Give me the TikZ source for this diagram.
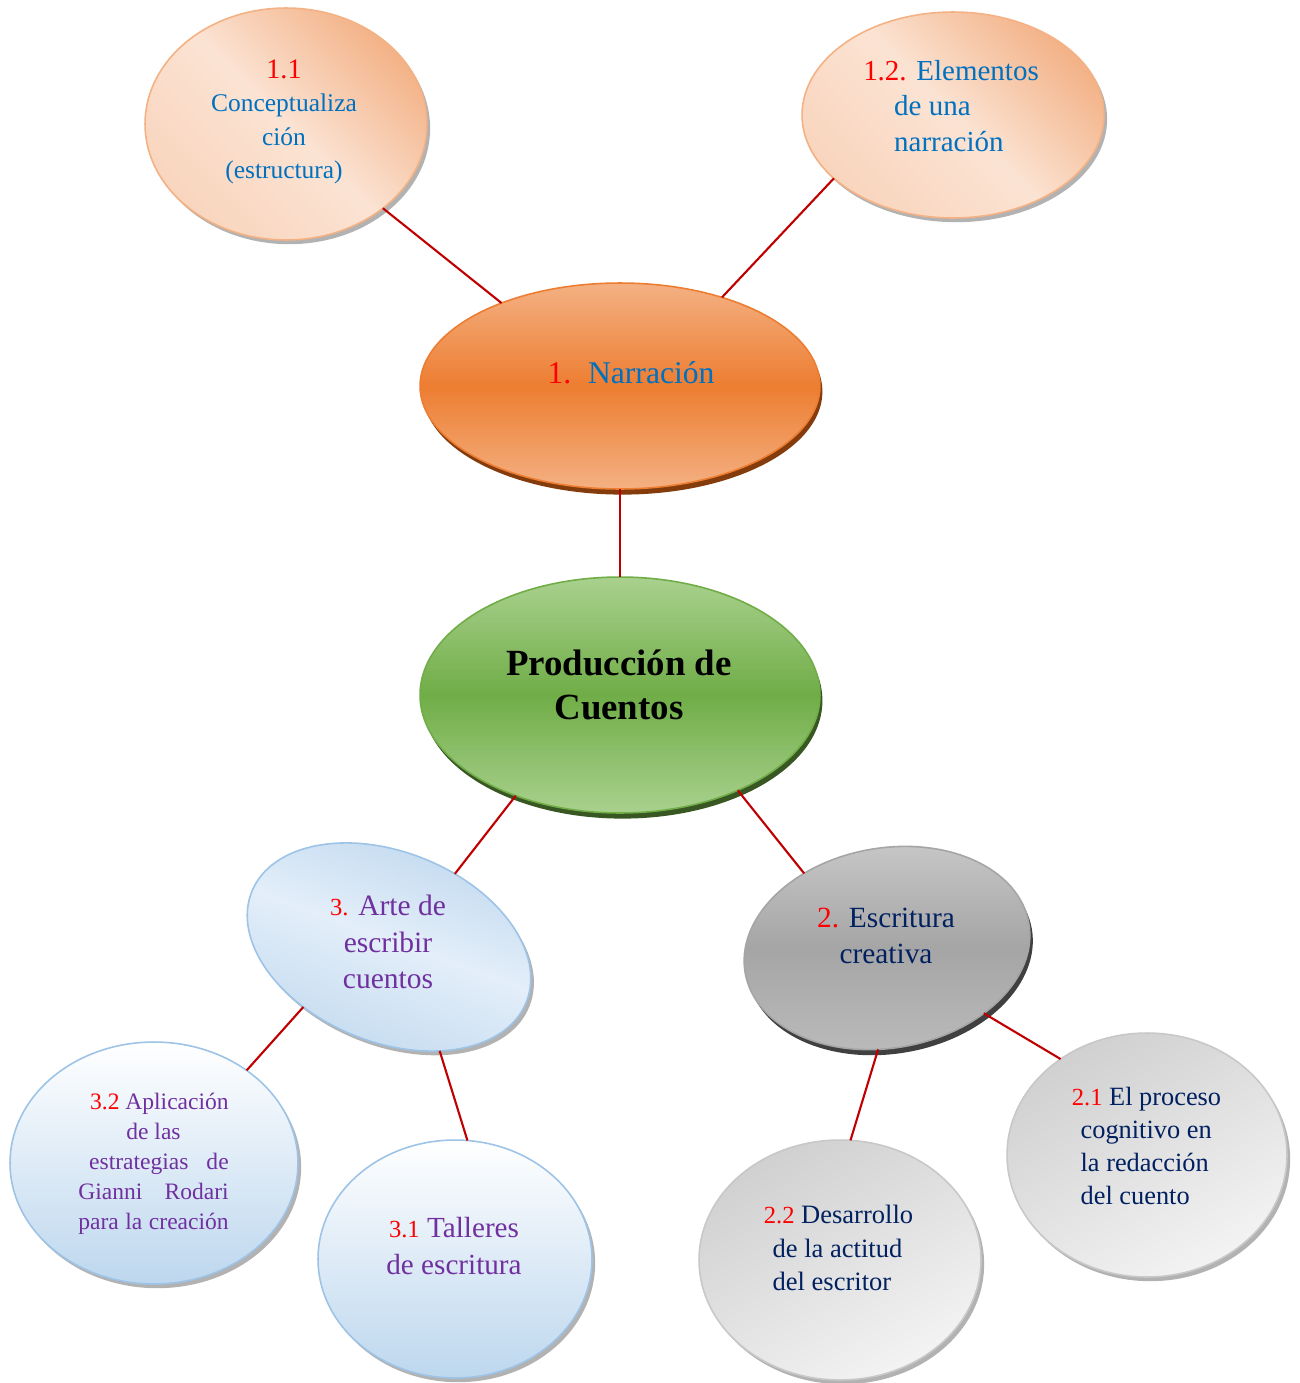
\documentclass[tikz,border=0pt]{standalone}
\usepackage{fontspec}
\setmainfont{Liberation Serif}
\usetikzlibrary{shapes.geometric,shadows}

\definecolor{txtblue}{HTML}{0070C0}
\definecolor{txtpurple}{HTML}{7030A0}
\definecolor{txtnavy}{HTML}{002060}
\definecolor{numred}{HTML}{FF0000}
\definecolor{linkred}{HTML}{C00000}
\definecolor{peachdark}{HTML}{F3B287}
\definecolor{peachlight}{HTML}{FBE3D3}
\definecolor{peachpale}{HTML}{F9D5BE}
\definecolor{peachrim}{HTML}{F4B183}
\definecolor{orangemid}{HTML}{ED7D31}
\definecolor{orangelight}{HTML}{F4B183}
\definecolor{orangeshadow}{HTML}{843C0C}
\definecolor{greenmid}{HTML}{70AD47}
\definecolor{greenlight}{HTML}{A9D18E}
\definecolor{greenshadow}{HTML}{385723}
\definecolor{bluerim}{HTML}{9DC3E6}
\definecolor{bluemid}{HTML}{BDD7EE}
\definecolor{bluepale}{HTML}{E3EEF9}
\definecolor{graytop}{HTML}{C9C9C9}
\definecolor{graymid}{HTML}{A5A5A5}
\definecolor{graybot}{HTML}{BCBCBC}
\definecolor{grayshadow}{HTML}{404040}
\definecolor{silverdark}{HTML}{D0D0D0}
\definecolor{silverpale}{HTML}{F3F3F3}
\definecolor{silverrim}{HTML}{C8C8C8}

\tikzset{
  bubble/.style={ellipse, inner sep=0pt, outer sep=0pt, line width=0.9pt},
  softshadow/.style={general shadow={shadow xshift=1.8pt, shadow yshift=-2.4pt, fill=black, opacity=0.3}},
  peachbubble/.style={bubble, softshadow, draw=peachrim,
    top color=peachdark, bottom color=peachpale, middle color=peachlight, shading angle=-45},
  orangebubble/.style={bubble, draw=orangemid,
    general shadow={shadow xshift=1.4pt, shadow yshift=-3.2pt, fill=orangeshadow},
    top color=orangelight, bottom color=orangelight, middle color=orangemid},
  greenbubble/.style={bubble, draw=greenmid,
    general shadow={shadow xshift=1.4pt, shadow yshift=-3.2pt, fill=greenshadow},
    top color=greenlight, bottom color=greenlight, middle color=greenmid},
  skybubble/.style={bubble, softshadow, draw=bluerim,
    top color=bluemid, bottom color=bluemid!90, middle color=bluepale, shading angle=-20},
  icebubble/.style={bubble, softshadow, draw=bluerim,
    top color=white, bottom color=bluemid},
  steelbubble/.style={bubble, draw=graymid,
    general shadow={shadow xshift=1.7pt, shadow yshift=-3.2pt, fill=grayshadow},
    top color=graytop, bottom color=graybot, middle color=graymid},
  silverbubble/.style={bubble, softshadow, draw=silverrim,
    top color=silverdark, bottom color=silverpale, shading angle=30},
  caption/.style={inner sep=0pt, align=center},
  link/.style={draw=linkred, line width=1.2pt},
}

\newcommand{\fs}[2]{\fontsize{#1}{#2}\selectfont}
\newcommand{\num}[1]{\textcolor{numred}{#1}}

\begin{document}
\begin{tikzpicture}[x=0.02cm, y=-0.02cm]
\useasboundingbox[fill=white] (0,0) rectangle (1300,1383);

% ---- bubbles ----
\node[peachbubble, minimum width=5.64cm, minimum height=4.64cm] (n11) at (286,124) {};
\node[peachbubble, minimum width=6.04cm, minimum height=4.12cm] (n12) at (953,115) {};
\node[orangebubble, minimum width=8.0cm, minimum height=4.12cm] (narr) at (620,386) {};
\node[greenbubble, minimum width=8.0cm, minimum height=4.72cm] (prod) at (620,695) {};
\node[skybubble, minimum width=5.92cm, minimum height=3.8cm, rotate=-22] (arte) at (389,947) {};
\node[steelbubble, minimum width=5.76cm, minimum height=4.0cm, rotate=10] (escr) at (887,948) {};
\node[icebubble, minimum width=5.76cm, minimum height=4.84cm] (n32) at (154,1163) {};
\node[icebubble, minimum width=5.48cm, minimum height=4.76cm] (n31) at (455,1259) {};
\node[silverbubble, minimum width=5.64cm, minimum height=4.8cm] (n22) at (840,1260) {};
\node[silverbubble, minimum width=5.60cm, minimum height=4.88cm] (n21) at (1147,1155) {};

% ---- connectors ----
\draw[link] (n11.-41.3) -- (narr.145.4);
\draw[link] (n12.208.6) -- (narr.41.8);
\draw[link] (narr.-90) -- (prod.90);
\draw[link] (prod.224.2) -- (arte.70.5);
\draw[link] (prod.-39.4) -- (escr.128.6);
\draw[link] (arte.237.2) -- (n32.45.3);
\draw[link] (arte.-42.6) -- (n31.84.1);
\draw[link] (escr.-105.9) -- (n22.85.1);
\draw[link] (escr.-44.6) -- (n21.132.1);

% ---- texts ----
\node[caption, text=txtblue, font=\fs{14.5}{19pt}] (n11-t) at (284,122)
  {{\fs{16}{19pt}\num{1.1}}\\Conceptualiza\\ción\\(estructura)};
\node[caption, align=left, text=txtblue, font=\fs{16.5}{20.4pt}] (n12-t) at (951,106)
  {\num{1.2.} Elementos\\\hspace*{17.6pt}de una\\\hspace*{17.6pt}narración};
\node[caption, text=txtblue, font=\fs{18}{22pt}] (narr-t) at (631,373)
  {\num{1.}\hspace{9.6pt}Narración};
\node[caption, font=\bfseries\fs{21}{25pt}] (prod-t) at (619,685)
  {Producción de\\Cuentos};
\node[caption, text=txtpurple, font=\fs{16.8}{20.7pt}] (arte-t) at (388,942)
  {{\fs{14}{20.7pt}\num{3.}} Arte de\\escribir\\cuentos};
\node[caption, text=txtnavy, font=\fs{16.7}{20.4pt}] (escr-t) at (886,936)
  {\num{2.} Escritura\\creativa};
\node[caption, text=txtpurple, font=\fs{13.4}{17pt}] (n32-t) at (153.5,1164)
  {\makebox[85.6pt][r]{\num{3.2} Aplicación}\\
   \makebox[85.6pt][c]{de las}\\
   \makebox[85.6pt][r]{\makebox[79.4pt][s]{estrategias\hfill de}}\\
   \makebox[85.6pt][s]{Gianni\hfill Rodari}\\
   \makebox[85.6pt][s]{para la creación}};
\node[caption, text=txtpurple, font=\fs{16.6}{21pt}] (n31-t) at (454,1246)
  {{\fs{14}{21pt}\num{3.1}} Talleres\\de escritura};
\node[caption, align=left, text=txtnavy, font=\fs{15.1}{19pt}] (n22-t) at (838.5,1248)
  {{\fs{14}{19pt}\num{2.2}} Desarrollo\\\hspace*{5pt}de la actitud\\\hspace*{5pt}del escritor};
\node[caption, align=left, text=txtnavy, font=\fs{15}{18.7pt}] (n21-t) at (1146.5,1146)
  {{\fs{14}{18.7pt}\num{2.1}} El proceso\\\hspace*{5pt}cognitivo en\\\hspace*{5pt}la redacción\\\hspace*{5pt}del cuento};
\end{tikzpicture}
\end{document}
